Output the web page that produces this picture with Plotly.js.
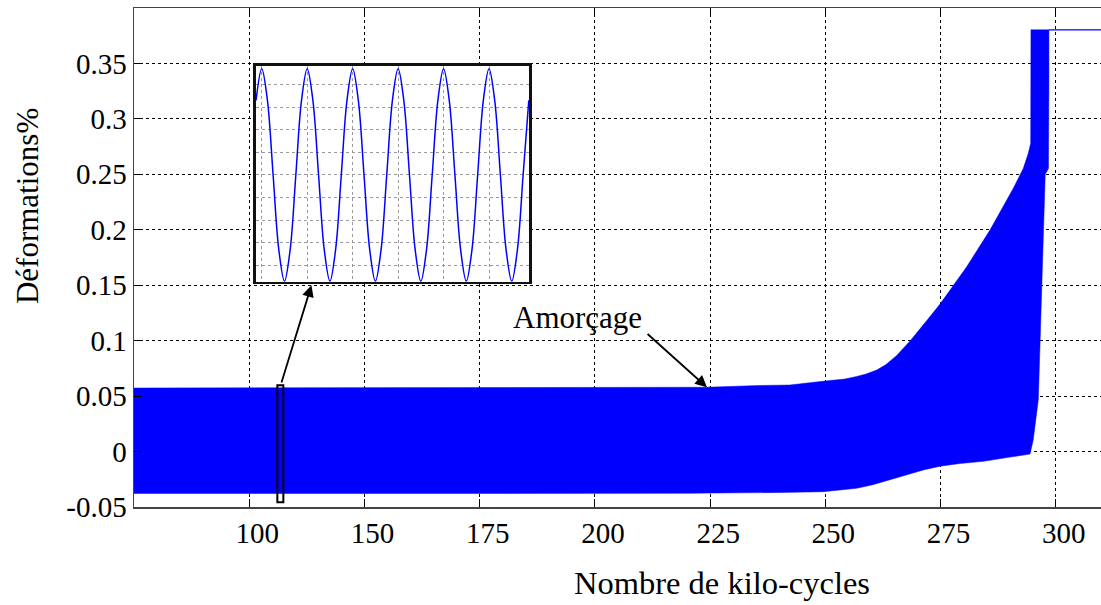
<!DOCTYPE html>
<html><head><meta charset="utf-8">
<script src="https://cdn.plot.ly/plotly-3.0.1.min.js"></script>
<style>html,body{margin:0;padding:0;background:#fff}#chart{width:1101px;height:605px}</style>
</head><body><div id="chart"></div>
<script>
// ---- axis ticks ----
const xTickVals = [125, 150, 175, 200, 225, 250, 275, 300];
const xTickText = ['100', '150', '175', '200', '225', '250', '275', '300'];
const yTickVals = [-0.05, 0, 0.05, 0.1, 0.15, 0.2, 0.25, 0.3, 0.35];
const yTickText = ['-0.05', '0', '0.05', '0.1', '0.15', '0.2', '0.25', '0.3', '0.35'];

// ---- strain band (envelope of the dense oscillation) ----
// upper envelope, left -> right
const upperX = [100, 160, 224.26, 235.8, 242.3, 249.92, 254.26, 256.80, 258.82, 261.14, 263.16, 265.48, 268.37, 272.27, 274.88, 280.67, 285.72, 290.78, 292.95, 294.03, 294.55, 294.6, 298.5];
const upperY = [0.0573, 0.0576, 0.0580, 0.0596, 0.0600, 0.0636, 0.0654, 0.0677, 0.0699, 0.0735, 0.0785, 0.0866, 0.0997, 0.1195, 0.1330, 0.1667, 0.1998, 0.2374, 0.2554, 0.2690, 0.2780, 0.3803, 0.3803];
// right edge at rupture, top -> bottom
const edgeX = [298.5, 298.4, 297.7, 296.9, 296.2, 295.1, 294.6];
const edgeY = [0.3300, 0.2553, 0.2500, 0.1454, 0.0467, 0.0107, -0.0013];
// lower envelope, right -> left
const lowerX = [294.4, 290.1, 284.3, 279.2, 274.9, 271.25, 267.5, 264.0, 260.3, 256.8, 253.2, 249.5, 240.2, 220.6, 160, 100];
const lowerY = [-0.0022, -0.0050, -0.0088, -0.0108, -0.0132, -0.0166, -0.0211, -0.0256, -0.0299, -0.0331, -0.0349, -0.0362, -0.0369, -0.0376, -0.0378, -0.0378];
// after rupture
const ruptureX = [298.5, 312];
const ruptureY = [0.3803, 0.3803];

// ---- zoomed window (inset) ----
const insetT = [0.875, 1, 1.125, 1.25, 1.375, 1.5, 1.625, 1.75, 1.875,
                2, 2.125, 2.25, 2.375, 2.5, 2.625, 2.75, 2.875,
                3, 3.125, 3.25, 3.375, 3.5, 3.625, 3.75, 3.875,
                4, 4.125, 4.25, 4.375, 4.5, 4.625, 4.75, 4.875,
                5, 5.125, 5.25, 5.375, 5.5, 5.625, 5.75, 5.875,
                6, 6.125, 6.25, 6.375, 6.5, 6.625, 6.75, 6.875];
const insetV = [0.043, 0.057, 0.043, 0.010, -0.023, -0.037, -0.023, 0.010, 0.043,
                0.057, 0.043, 0.010, -0.023, -0.037, -0.023, 0.010, 0.043,
                0.057, 0.043, 0.010, -0.023, -0.037, -0.023, 0.010, 0.043,
                0.057, 0.043, 0.010, -0.023, -0.037, -0.023, 0.010, 0.043,
                0.057, 0.043, 0.010, -0.023, -0.037, -0.023, 0.010, 0.043,
                0.057, 0.043, 0.010, -0.023, -0.037, -0.023, 0.010, 0.043];
const zoomWinX = [131.1, 132.4];
const zoomWinY = [-0.0458, 0.0598];

// ---- annotation anchors ----
const arrowZoom = {head: [138.5, 0.150], tail: [131.9, 0.0609]};
const arrowAmorcage = {head: [224.3, 0.0580], tail: [211.1, 0.1072], label: [196.3, 0.1205]};

const FONT = '"Liberation Serif", "Times New Roman", serif';
const BLUE = '#0000ff';

const bandX = upperX.concat(edgeX, lowerX);
const bandY = upperY.concat(edgeY, lowerY);

const traces = [
  {x: bandX, y: bandY, type: 'scatter', mode: 'lines', fill: 'toself',
   fillcolor: BLUE, line: {color: BLUE, width: 0.5}, hoverinfo: 'skip', showlegend: false},
  {x: ruptureX, y: ruptureY, type: 'scatter', mode: 'lines',
   line: {color: BLUE, width: 1.2}, hoverinfo: 'skip', showlegend: false},
  {x: insetT, y: insetV, xaxis: 'x2', yaxis: 'y2', type: 'scatter', mode: 'lines',
   line: {color: BLUE, width: 1.5, shape: 'spline', smoothing: 1}, hoverinfo: 'skip', showlegend: false}
];

const layout = {
  width: 1101, height: 605,
  margin: {l: 134, r: 0, t: 8, b: 98},
  paper_bgcolor: '#ffffff', plot_bgcolor: '#ffffff',
  font: {family: FONT, size: 29, color: '#000'},
  showlegend: false,
  xaxis: {
    range: [100, 309.8], tickvals: xTickVals, ticktext: xTickText,
    showgrid: true, gridcolor: '#000', gridwidth: 1, griddash: '3px,3px',
    zeroline: false, showline: true, linecolor: '#444', linewidth: 1.5, mirror: 'ticks',
    ticks: 'inside', ticklen: 8, tickcolor: '#000', tickwidth: 1,
    tickfont: {family: FONT, size: 29}, ticklabelshift: 8
  },
  yaxis: {
    range: [-0.05, 0.4], tickvals: yTickVals, ticktext: yTickText,
    showgrid: true, gridcolor: '#000', gridwidth: 1, griddash: '3px,3px',
    zeroline: false, showline: true, linecolor: '#444', linewidth: 1.5, mirror: false,
    ticks: 'inside', ticklen: 8, tickcolor: '#000', tickwidth: 1,
    tickfont: {family: FONT, size: 29}
  },
  xaxis2: {
    domain: [0.1259, 0.4085], anchor: 'y2', range: [0.868, 6.88], dtick: 1, tick0: 0,
    showticklabels: false, ticks: '', showgrid: true, gridcolor: '#999', griddash: 'dot', gridwidth: 1,
    zeroline: false, showline: true, linecolor: '#111', linewidth: 2.5, mirror: true
  },
  yaxis2: {
    domain: [0.4515, 0.8838], anchor: 'x2', range: [-0.0372, 0.0582], dtick: 0.01, tick0: 0,
    showticklabels: false, ticks: '', showgrid: true, gridcolor: '#999', griddash: 'dot', gridwidth: 1,
    zeroline: false, showline: true, linecolor: '#111', linewidth: 2.5, mirror: true
  },
  shapes: [
    {type: 'rect', xref: 'x', yref: 'y', x0: zoomWinX[0], x1: zoomWinX[1], y0: zoomWinY[0], y1: zoomWinY[1],
     line: {color: '#000', width: 2}, fillcolor: 'rgba(0,0,0,0)', layer: 'above'}
  ],
  annotations: [
    {xref: 'x', yref: 'y', axref: 'x', ayref: 'y',
     x: arrowZoom.head[0], y: arrowZoom.head[1], ax: arrowZoom.tail[0], ay: arrowZoom.tail[1],
     text: '', showarrow: true, arrowhead: 2, arrowsize: 1.3, arrowwidth: 1.8, arrowcolor: '#000', standoff: 0},
    {xref: 'x', yref: 'y', axref: 'x', ayref: 'y',
     x: arrowAmorcage.head[0], y: arrowAmorcage.head[1], ax: arrowAmorcage.tail[0], ay: arrowAmorcage.tail[1],
     text: '', showarrow: true, arrowhead: 2, arrowsize: 1.3, arrowwidth: 1.8, arrowcolor: '#000', standoff: 0},
    {xref: 'x', yref: 'y', x: arrowAmorcage.label[0], y: arrowAmorcage.label[1],
     text: 'Amorçage', showarrow: false, xanchor: 'center', yanchor: 'middle',
     font: {family: FONT, size: 31, color: '#000'}},
    {xref: 'paper', yref: 'paper', x: 0.608, y: -0.1523, xanchor: 'center', yanchor: 'middle',
     text: 'Nombre de kilo-cycles', showarrow: false, font: {family: FONT, size: 32.5, color: '#000'}},
    {xref: 'paper', yref: 'paper', x: -0.1107, y: 0.603, xanchor: 'center', yanchor: 'middle',
     text: 'Déformations%', textangle: -90, showarrow: false, font: {family: FONT, size: 31, color: '#000'}}
  ]
};

Plotly.newPlot('chart', traces, layout, {staticPlot: true, displayModeBar: false});
</script>
</body></html>
